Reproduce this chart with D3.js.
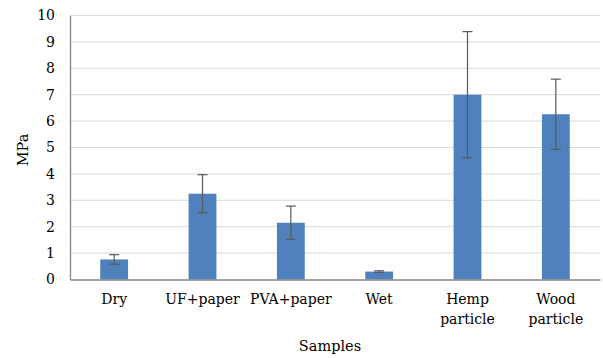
<!DOCTYPE html>
<html><head><meta charset="utf-8">
<script src="https://cdn.jsdelivr.net/npm/d3@7"></script>
<style>body{margin:0;background:#fff}svg{display:block}</style>
</head><body><svg id="c" width="603" height="358"></svg>
<script>
const categories = [["Dry"],["UF+paper"],["PVA+paper"],["Wet"],["Hemp","particle"],["Wood","particle"]];
const values = [0.76, 3.25, 2.15, 0.30, 7.0, 6.26];
const errors = [0.18, 0.72, 0.63, 0.03, 2.39, 1.33];
const yTicks = [0,1,2,3,4,5,6,7,8,9,10];

const FONT = "DejaVu Serif";
const svg = d3.select("#c");
const m = {l:70, r:600, t:15.5, b:279.5};
const x = d3.scaleBand().domain(d3.range(categories.length)).range([m.l, m.r]).paddingInner(0.685).paddingOuter(0.3425);
const y = d3.scaleLinear().domain([0,10]).range([m.b, m.t]);

svg.append("g").selectAll("line").data(yTicks.filter(d=>d>0)).join("line")
  .attr("x1", m.l).attr("x2", m.r).attr("y1", d=>y(d)).attr("y2", d=>y(d))
  .attr("stroke", "#d9d9d9").attr("stroke-width", 1);

const ya = svg.append("g").attr("transform", `translate(${m.l},0)`)
  .call(d3.axisLeft(y).tickValues(yTicks).tickSize(0).tickPadding(15));
ya.attr("font-family", FONT).attr("font-size", 14);
ya.select(".domain").attr("stroke", "#868686").attr("stroke-width", 1.3);
ya.selectAll("text").attr("font-size", 14).attr("font-family", FONT).attr("fill", "#000");

svg.append("g").selectAll("rect").data(values).join("rect")
  .attr("x", (d,i)=>x(i)).attr("width", x.bandwidth())
  .attr("y", d=>y(d)).attr("height", d=>y(0)-y(d))
  .attr("fill", "#4f81bd");

const eg = svg.append("g").attr("stroke", "#595959").attr("stroke-width", 1.2);
values.forEach((v,i)=>{
  const cx = x(i) + x.bandwidth()/2;
  const hi = y(v+errors[i]), lo = y(v-errors[i]);
  eg.append("line").attr("x1",cx).attr("x2",cx).attr("y1",hi).attr("y2",lo);
  eg.append("line").attr("x1",cx-5).attr("x2",cx+5).attr("y1",hi).attr("y2",hi);
  eg.append("line").attr("x1",cx-5).attr("x2",cx+5).attr("y1",lo).attr("y2",lo);
});

const xa = svg.append("g").attr("transform", `translate(0,${m.b})`)
  .call(d3.axisBottom(x).tickSize(0).tickFormat(""));
xa.select(".domain").attr("stroke", "#868686").attr("stroke-width", 1.3);
categories.forEach((lines,i)=>{
  const t = svg.append("text").attr("x", x(i)+x.bandwidth()/2).attr("y", 304)
    .attr("text-anchor","middle").attr("font-size",14).attr("font-family", FONT);
  lines.forEach((s,j)=>t.append("tspan").attr("x", x(i)+x.bandwidth()/2).attr("dy", j? 20:0).text(s));
});

svg.append("text").attr("x", 330).attr("y", 351).attr("text-anchor","middle").attr("font-size",14.5).attr("font-family", FONT).text("Samples");
svg.append("text").attr("transform","translate(28,150) rotate(-90)").attr("text-anchor","middle").attr("font-size",14.5).attr("font-family", FONT).text("MPa");
</script></body></html>
